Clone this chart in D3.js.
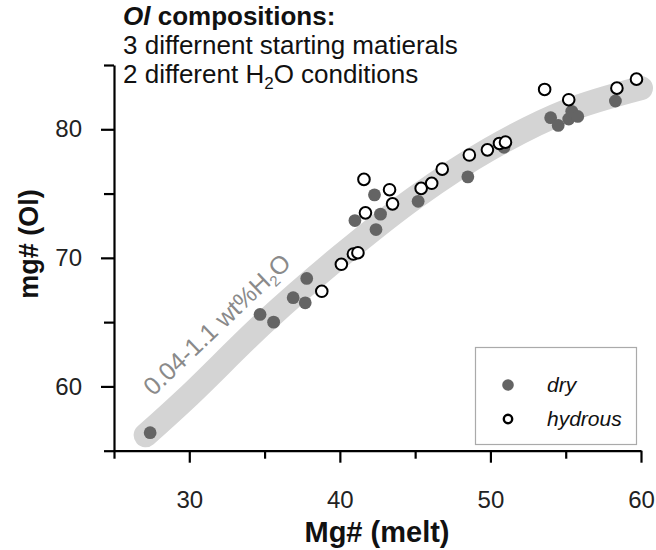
<!DOCTYPE html>
<html><head><meta charset="utf-8">
<script src="https://cdn.jsdelivr.net/npm/d3@7"></script>
<style>
body{margin:0;background:#fff}
svg{display:block}
text{font-family:"Liberation Sans",Arial,Helvetica,sans-serif}
</style>
</head><body>
<svg id="c" width="656" height="550"></svg>
<script>
// ---- data ----
const dryX = [27.4, 34.7, 35.6, 36.9, 37.7, 37.8, 41.0, 42.4, 42.7, 42.3, 45.2, 48.5, 50.9, 54.0, 54.5, 55.2, 55.4, 55.8, 58.3];
const dryY = [56.4, 65.6, 65.0, 66.9, 66.5, 68.4, 72.9, 72.2, 73.4, 74.9, 74.4, 76.3, 78.6, 80.9, 80.3, 80.8, 81.4, 81.0, 82.2];
const hydX = [38.8, 40.1, 40.9, 41.2, 41.7, 41.6, 43.3, 43.5, 45.4, 46.1, 46.8, 48.6, 49.8, 50.6, 51.0, 53.6, 55.2, 58.4, 59.7];
const hydY = [67.4, 69.5, 70.3, 70.4, 73.5, 76.1, 75.3, 74.2, 75.4, 75.8, 76.9, 78.0, 78.4, 78.9, 79.0, 83.1, 82.3, 83.2, 83.9];
const bandX = [27.1, 30, 35, 40, 45, 50, 55, 60];
const bandY = [56.2, 59.3, 65.0, 70.1, 74.7, 78.5, 81.4, 83.2];
const xTicks = [25, 30, 35, 40, 45, 50, 55, 60];
const xTickLabels = ["30", "40", "50", "60"];
const yTicks = [55, 60, 65, 70, 75, 80, 85];
const yTickLabels = ["60", "70", "80"];
const legendLabels = ["dry", "hydrous"];
const titleLines = ["compositions:", "3 differnent starting matierals", "2 different H"];

// ---- scales ----
const svg = d3.select("#c");
const x = d3.scaleLinear().domain([25, 60]).range([114, 641]);
const y = d3.scaleLinear().domain([55, 85]).range([450.7, 65]);

// ---- band ----
const bandPts = bandX.map((v, i) => [v, bandY[i]]);
svg.append("path")
  .attr("d", d3.line().x(d => x(d[0])).y(d => y(d[1])).curve(d3.curveCatmullRom)(bandPts))
  .attr("fill", "none").attr("stroke", "#d4d4d4").attr("stroke-width", 24)
  .attr("stroke-linecap", "round").attr("stroke-linejoin", "round");

// band label
const bl = svg.append("text")
  .attr("transform", `translate(${x(27.6)},${y(59.2)}) rotate(-43.5)`)
  .attr("fill", "#8a8a8a").attr("font-size", 25);
bl.append("tspan").text("0.04-1.1 wt%H");
bl.append("tspan").attr("font-size", 15).attr("dy", 5).text("2");
bl.append("tspan").attr("dy", -5).text("O");

// ---- axes ----
const xAxis = svg.append("g").attr("transform", `translate(0,${y(55)})`)
  .call(d3.axisBottom(x).tickValues(xTicks).tickSize(12).tickSizeOuter(0).tickPadding(28)
    .tickFormat(d => xTickLabels.includes(String(d)) ? String(d) : ""));
xAxis.selectAll(".tick line").attr("y2", d => xTickLabels.includes(String(d)) ? 12 : 8);
const yAxis = svg.append("g").attr("transform", `translate(${x(25)},0)`)
  .call(d3.axisLeft(y).tickValues(yTicks).tickSize(13).tickSizeOuter(0).tickPadding(19)
    .tickFormat(d => yTickLabels.includes(String(d)) ? String(d) : ""));
yAxis.selectAll(".tick line").attr("x2", d => yTickLabels.includes(String(d)) ? -13 : -10);
[xAxis, yAxis].forEach(g => {
  g.select(".domain").attr("stroke", "#000").attr("stroke-width", 2.2);
  g.selectAll(".tick line").attr("stroke", "#000").attr("stroke-width", 2.2);
  g.selectAll(".tick text").attr("font-size", 24).attr("fill", "#222")
    .attr("font-family", '"Liberation Sans",Arial,sans-serif');
});

// axis titles
svg.append("text").attr("x", 377).attr("y", 542).attr("text-anchor", "middle")
  .attr("font-size", 29).attr("font-weight", "bold").attr("fill", "#111").text("Mg# (melt)");
svg.append("text").attr("transform", "translate(38,244) rotate(-90)").attr("text-anchor", "middle")
  .attr("font-size", 27).attr("font-weight", "bold").attr("fill", "#111").text("mg# (Ol)");

// ---- points ----
svg.append("g").selectAll("circle").data(dryX.map((v, i) => [v, dryY[i]])).join("circle")
  .attr("cx", d => x(d[0])).attr("cy", d => y(d[1])).attr("r", 6.4).attr("fill", "#646464");
svg.append("g").selectAll("circle").data(hydX.map((v, i) => [v, hydY[i]])).join("circle")
  .attr("cx", d => x(d[0])).attr("cy", d => y(d[1])).attr("r", 5.8)
  .attr("fill", "#fff").attr("stroke", "#000").attr("stroke-width", 2);

// ---- title ----
const t1 = svg.append("text").attr("x", 123).attr("y", 25).attr("font-size", 26)
  .attr("font-weight", "bold").attr("fill", "#111");
t1.append("tspan").attr("font-style", "italic").text("Ol");
t1.append("tspan").text(" " + titleLines[0]);
svg.append("text").attr("x", 123).attr("y", 54).attr("font-size", 26).attr("fill", "#111").text(titleLines[1]);
const t3 = svg.append("text").attr("x", 123).attr("y", 83).attr("font-size", 26).attr("fill", "#111");
t3.append("tspan").text(titleLines[2]);
t3.append("tspan").attr("font-size", 17).attr("dy", 6).text("2");
t3.append("tspan").attr("dy", -6).text("O conditions");

// ---- legend ----
const lg = svg.append("g");
lg.append("rect").attr("x", 475.5).attr("y", 347.5).attr("width", 161).attr("height", 97)
  .attr("fill", "#fff").attr("stroke", "#aaa").attr("stroke-width", 1.2);
lg.append("circle").attr("cx", 508).attr("cy", 385).attr("r", 5.8).attr("fill", "#646464");
lg.append("circle").attr("cx", 508).attr("cy", 419).attr("r", 4.2).attr("fill", "#fff")
  .attr("stroke", "#000").attr("stroke-width", 2.4);
lg.selectAll("text.l").data(legendLabels).join("text").attr("class", "l")
  .attr("x", 547).attr("y", (d, i) => 392 + i * 34).attr("font-size", 21)
  .attr("font-style", "italic").attr("fill", "#111").text(d => d);
</script>
</body></html>
